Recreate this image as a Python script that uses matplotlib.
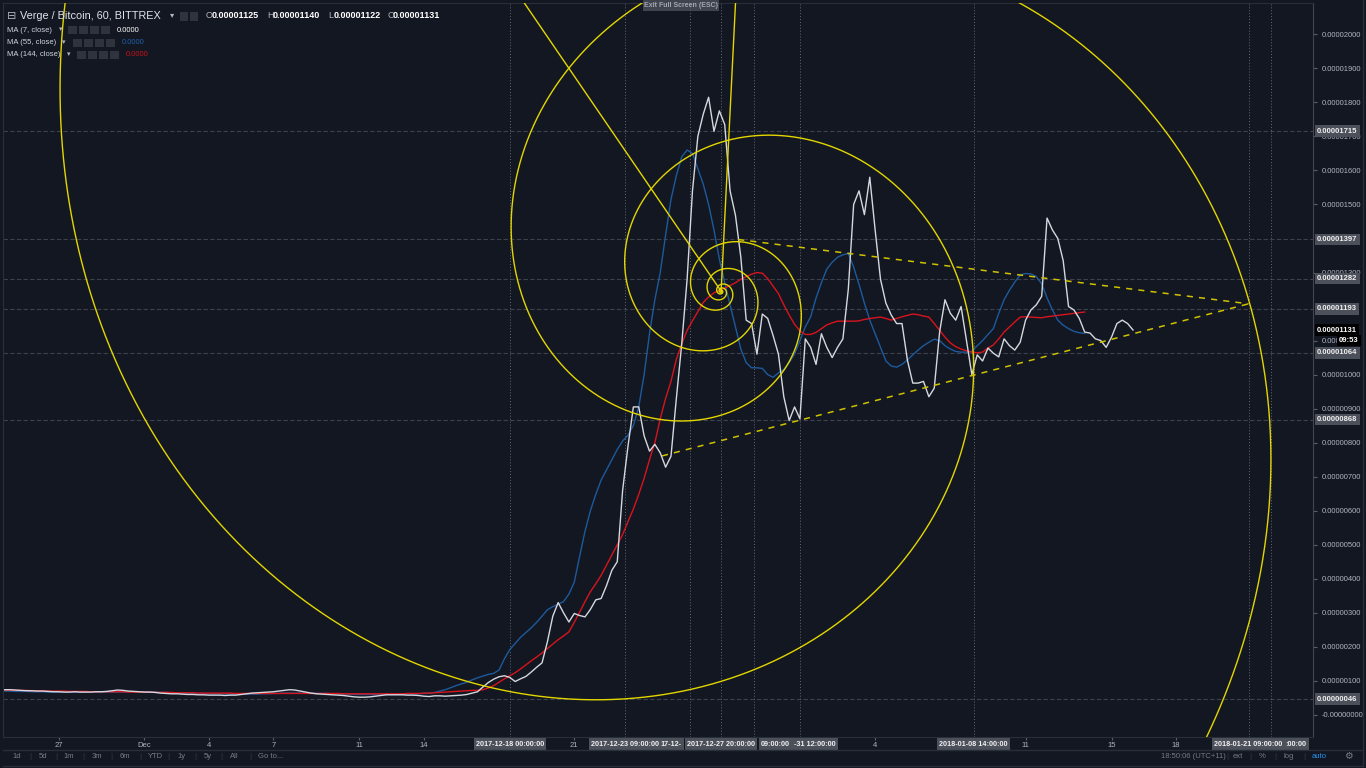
import datetime as dt

import matplotlib
matplotlib.use("Agg")
import matplotlib.dates as mdates
import matplotlib.pyplot as plt
import matplotlib.transforms as mtransforms
import numpy as np
import pandas as pd
from matplotlib.lines import Line2D
from matplotlib.patches import Rectangle

plt.rcParams["font.family"] = ["Liberation Sans", "DejaVu Sans"]

W, H = 1366, 768
BG = "#131722"
YEL = "#e3d600"
C_WHITE = "#d6d8de"
C_BLUE = "#1d5a9c"
C_RED = "#d8141c"
TXT = "#b2b5be"
MUTED = "#787b86"

# ---- data (prices in satoshi, 6-hour samples starting 2017-11-24 12:00) ----
series_start = "2017-11-24 12:00"
ma7 = [74, 74, 73, 72, 71, 71, 70, 70, 69, 68,
       68, 67, 67, 68, 67, 67, 67, 68, 68, 69,
       71, 73, 72, 70, 69, 68, 67, 67, 66, 64,
       63, 62, 62, 61, 60, 60, 59, 59, 58, 58,
       58, 57, 58, 58, 60, 62, 64, 65, 66, 67,
       68, 70, 72, 74, 73, 70, 67, 64, 62, 61,
       60, 59, 58, 57, 55, 53, 52, 52, 53, 55,
       57, 59, 59, 59, 59, 58, 58, 57, 55, 54,
       56, 56, 55, 56, 57, 58, 60, 64,
       68, 82, 95, 105, 112, 115, 110, 98, 106, 113, 126, 140,
       153, 215, 290, 330, 300, 273, 298, 292, 288, 310,
       338, 342, 380, 425, 450, 660, 790, 905, 905, 820,
       775, 795, 770, 728, 760, 930, 1090, 1280, 1540, 1700,
       1765, 1815, 1715, 1775, 1735, 1540, 1468, 1345, 1160, 1150,
       1060, 1178, 1165, 1115, 1060, 935, 865, 905, 870, 1105,
       1080, 1030, 1120, 1080, 1050, 1080, 1105, 1250, 1500, 1540,
       1470, 1580, 1425, 1280, 1210, 1175, 1150, 1150, 1043, 975,
       975, 980, 935, 960, 1125, 1220, 1180, 1160, 1200, 1100,
       1000, 1058, 1040, 1078, 1063, 1052, 1105, 1085, 1072, 1095,
       1160, 1190, 1205, 1230, 1460, 1425, 1400, 1335, 1200, 1190,
       1165, 1125, 1122, 1105, 1100, 1080, 1110, 1150, 1160, 1150, 1131]
ma55 = [70, 70, 69, 69, 69, 68, 68, 68, 67, 67,
        67, 67, 67, 67, 67, 67, 67, 67, 67, 67,
        67, 67, 67, 68, 68, 68, 68, 67, 67, 66,
        66, 65, 65, 64, 64, 63, 63, 63, 62, 62,
        62, 62, 61, 61, 61, 61, 61, 61, 62, 62,
        63, 63, 64, 64, 64, 64, 64, 64, 63, 63,
        63, 62, 62, 61, 61, 60, 60, 60, 60, 60,
        60, 60, 60, 60, 60, 61, 61, 62, 63, 64,
        66, 70, 74, 80, 86, 91, 96, 103, 109, 114,
        119, 122, 132, 165, 192, 210, 228, 242, 256, 272,
        290, 309, 318, 325, 333, 355, 390, 466, 540, 600,
        648, 690, 720, 750, 780, 805, 822, 850, 905, 1000,
        1120, 1220, 1300, 1410, 1515, 1585, 1640, 1660, 1650, 1605,
        1560, 1500, 1425, 1340, 1270, 1205, 1140, 1075, 1035, 1020,
        1020, 1018, 1000, 992, 1005, 1015, 1035, 1060, 1100, 1140,
        1170, 1225, 1270, 1310, 1330, 1345, 1352, 1356, 1316, 1265,
        1210, 1160, 1120, 1080, 1040, 1025, 1022, 1030, 1043, 1058,
        1072, 1085, 1095, 1104, 1100, 1085, 1075, 1068, 1066, 1066,
        1068, 1085, 1100, 1118, 1135, 1180, 1220, 1248, 1272, 1293,
        1297, 1296, 1288, 1267, 1225, 1190, 1160, 1145, 1135, 1127,
        1123, 1121]
ma144 = [73, 73, 72, 72, 72, 71, 71, 71, 70, 70,
         70, 70, 69, 69, 69, 69, 68, 68, 68, 68,
         68, 68, 68, 67, 67, 67, 67, 67, 66, 66,
         66, 66, 65, 65, 65, 65, 64, 64, 64, 64,
         64, 64, 64, 63, 63, 63, 63, 63, 63, 63,
         63, 63, 63, 63, 63, 63, 63, 63, 63, 63,
         63, 63, 63, 62, 62, 62, 62, 62, 62, 62,
         62, 62, 62, 62, 62, 63, 63, 63, 64, 64,
         65, 66, 67, 68, 69, 70, 71, 72, 72, 74,
         79, 86, 96, 106, 115, 124, 135, 147, 159, 170,
         182, 195, 208, 221, 232, 244, 272, 302, 333, 362,
         385, 410, 440, 470, 500, 530, 568, 605, 648, 695,
         750, 800, 870, 930, 980, 1045, 1090, 1130, 1158, 1185,
         1212, 1228, 1240, 1248, 1254, 1262, 1270, 1280, 1288, 1295,
         1300, 1298, 1282, 1260, 1238, 1205, 1175, 1148, 1128, 1118,
         1118, 1124, 1135, 1146, 1152, 1157, 1157, 1157, 1157, 1158,
         1162, 1165, 1167, 1169, 1165, 1160, 1165, 1170, 1174, 1178,
         1176, 1172, 1169, 1150, 1130, 1110, 1093, 1082, 1075, 1070,
         1066, 1064, 1066, 1078, 1087, 1105, 1125, 1140, 1155, 1169,
         1170, 1169, 1168, 1167, 1170, 1172, 1174, 1176, 1178, 1180,
         1182, 1184]

# drawing levels (price lines with labels) and time marks
level_prices = [1715, 1397, 1282, 1193, 1064, 868, 46]
last_price = 1131
mark_times = ["2017-12-18 00:00", "2017-12-23 09:00", "2017-12-26 09:00",
              "2017-12-27 20:00", "2017-12-29 09:00", "2017-12-31 12:00",
              "2018-01-08 14:00", "2018-01-21 09:00", "2018-01-22 10:00"]
# visible part of each time-mark label (neighbouring labels cover the rest)
mark_labels = ["2017-12-18 00:00:00", "2017-12-23 09:00:00", "17-12-",
               "2017-12-27 20:00:00", "09:00:00", "-31 12:00:00",
               "2018-01-08 14:00:00", "2018-01-21 09:00:00", ":00:00"]
mark_align = ["center", "center", "mid", "center", "right", "right",
              "center", "center", "right"]
tick_dates = ["2017-11-27", "2017-12-01", "2017-12-04", "2017-12-07", "2017-12-11",
              "2017-12-14", "2017-12-21", "2018-01-04", "2018-01-11", "2018-01-15",
              "2018-01-18"]
tick_labels = ["27", "Dec", "4", "7", "11", "14", "21", "4", "11", "15", "18"]
price_ticks = [0, 100, 200, 300, 400, 500, 600, 700, 800, 900, 1000, 1100, 1300,
               1500, 1600, 1700, 1800, 1900, 2000]

# fib spiral anchors and triangle
spiral_pole = ("2017-12-27 20:00", 1245)
spiral_right_marks = ["2018-01-08 14:00", "2018-01-22 10:00"]
ray_ends = [("2017-12-17 00:00", 2247), ("2017-12-28 15:00", 2247)]
tri_upper = [("2017-12-28 15:00", 1397), ("2018-01-21 09:00", 1208)]
tri_lower = [("2017-12-25 02:00", 761), ("2018-01-21 09:00", 1208)]


def fx(x):
    return x / W


def fy(y):
    return 1 - y / H


def dnum(s):
    return mdates.date2num(pd.Timestamp(s).to_pydatetime())


def price_text(v):
    if v == 0:
        return "-0.00000000"
    if v == 1100:
        return "0.000"  # the rest is hidden under the countdown box
    return f"{v * 1e-8:.8f}"


fig = plt.figure(figsize=(W / 100, H / 100), dpi=100, facecolor=BG)
ax = fig.add_axes([fx(3), fy(737), 1310 / W, 734 / H], facecolor=BG)
ax.set_xlim(dt.datetime(2017, 11, 24, 10), dt.datetime(2018, 1, 24, 9))
ax.set_ylim(-65, 2092)

for side in ["left", "top", "bottom"]:
    ax.spines[side].set_color("#2a2e39")
ax.spines["right"].set_color("#434651")

# level lines & time marks
for p in level_prices:
    ax.axhline(p, color="#3d414c", lw=0.8, ls=(0, (4, 2)), zorder=1)
for t in mark_times:
    ax.axvline(dnum(t), color="#656874", lw=0.7, ls=(0, (1, 2)), zorder=1)

# moving averages
t7 = pd.date_range(series_start, periods=len(ma7), freq="6h")
t55 = pd.date_range(series_start, periods=len(ma55), freq="6h")
t144 = pd.date_range(series_start, periods=len(ma144), freq="6h")
ax.plot(t55, ma55, color=C_BLUE, lw=1.0, zorder=3)
ax.plot(t144, ma144, color=C_RED, lw=1.0, zorder=3)
ax.plot(t7, ma7, color=C_WHITE, lw=1.0, zorder=3)

# fib spiral (two golden log spirals sharing one pole)
PHI = (1 + 5 ** 0.5) / 2
b = np.log(PHI) / (np.pi / 2)
th0 = np.arctan(b)
px, py = ax.transData.transform((dnum(spiral_pole[0]), spiral_pole[1]))
inv = ax.transData.inverted()
for rd in spiral_right_marks:
    xr, _ = ax.transData.transform((dnum(rd), spiral_pole[1]))
    r0 = (xr - px) / np.cos(th0)
    th = np.linspace(th0 + np.log(1.0 / r0) / b, th0 + np.log(4000 / r0) / b, 8000)
    r = r0 * np.exp(b * (th - th0))
    pts = inv.transform(np.column_stack([px + r * np.cos(th), py - r * np.sin(th)]))
    ax.plot(pts[:, 0], pts[:, 1], color=YEL, lw=1.0, zorder=4)
for d, p in ray_ends:
    ax.plot([dnum(spiral_pole[0]), dnum(d)], [spiral_pole[1], p], color=YEL, lw=1.0, zorder=4)

# triangle
for seg in (tri_upper, tri_lower):
    ax.plot([dnum(seg[0][0]), dnum(seg[1][0])], [seg[0][1], seg[1][1]],
            color="#cfc200", lw=1.1, ls=(0, (4, 4)), zorder=4)

# price scale
ax.yaxis.tick_right()
ax.set_yticks(price_ticks)
ax.set_yticklabels([price_text(v) for v in price_ticks])
ax.tick_params(axis="y", length=3, width=0.8, color="#5d606b", labelsize=5.5,
               labelcolor=TXT, pad=3)

ytrans = mtransforms.blended_transform_factory(ax.transAxes, ax.transData)
for p in level_prices:
    ax.text(1 + 4 / 1310, p, f"{p * 1e-8:.8f}", transform=ytrans, ha="left", va="center",
            fontsize=5.5, fontweight="bold", color="#f0f0f0", zorder=6, clip_on=False,
            bbox=dict(boxstyle="square,pad=0.3", fc="#4c505b", ec="none"))
ax.text(1 + 4 / 1310, last_price, f"{last_price * 1e-8:.8f}", transform=ytrans, ha="left",
        va="center", fontsize=5.5, fontweight="bold", color="white", zorder=6, clip_on=False,
        bbox=dict(boxstyle="square,pad=0.3", fc="black", ec="none"))
ax.text(1 + 26 / 1310, last_price - 31, "09:53", transform=ytrans, ha="left", va="center",
        fontsize=5.5, fontweight="bold", color="white", zorder=6, clip_on=False,
        bbox=dict(boxstyle="square,pad=0.3", fc="black", ec="none"))

# time scale
ax.set_xticks([dnum(d) for d in tick_dates])
ax.set_xticklabels(tick_labels)
ax.tick_params(axis="x", length=2, width=0.8, color="#5d606b", labelsize=5.5,
               labelcolor=TXT, pad=1.5)
xtrans = mtransforms.blended_transform_factory(ax.transData, ax.transAxes)
for t, lab, al in zip(mark_times, mark_labels, mark_align):
    if al == "right":
        tr, ha = xtrans + mtransforms.ScaledTranslation(0.355, 0, fig.dpi_scale_trans), "right"
    elif al == "mid":
        tr, ha = xtrans + mtransforms.ScaledTranslation(-0.185, 0, fig.dpi_scale_trans), "center"
    else:
        tr, ha = xtrans, "center"
    ax.text(dnum(t), -7 / 734, lab, transform=tr, ha=ha, va="center",
            fontsize=5.2, fontweight="bold", color="#f0f0f0", zorder=7, clip_on=False,
            bbox=dict(boxstyle="square,pad=0.3", fc="#4c505b", ec="none"))

# header legend
fig.text(fx(7), fy(16), "\u229f", fontsize=8, color=TXT, va="center")
fig.text(fx(20), fy(16), "Verge / Bitcoin, 60, BITTREX", fontsize=7.8, color="#e0e3eb", va="center")
fig.text(fx(170), fy(16), "\u25be", fontsize=6, color=TXT, va="center")
for x0 in (180, 190):
    fig.add_artist(Rectangle((fx(x0), fy(21)), 8 / W, 9 / H, transform=fig.transFigure,
                             fc="#2f333e", ec="none"))
ohlc = [("O", "0.00001125", 206), ("H", "0.00001140", 267), ("L", "0.00001122", 328),
        ("C", "0.00001131", 387)]
for k, v, x0 in ohlc:
    fig.text(fx(x0), fy(16), k, fontsize=6.5, color=TXT, va="center")
    fig.text(fx(x0 + 6), fy(16), v, fontsize=6.5, color="white", fontweight="bold", va="center")

ma_rows = [("MA (7, close)", 59, 68, 117, "white", 30),
           ("MA (55, close)", 62, 73, 122, "#1e5fa8", 43),
           ("MA (144, close)", 67, 77, 126, "#c8101a", 55)]
for name, ax_x, ic_x, val_x, col, yy in ma_rows:
    fig.text(fx(7), fy(yy), name, fontsize=5.5, color="#d1d4dc", va="center")
    fig.text(fx(ax_x), fy(yy), "\u25be", fontsize=5, color=TXT, va="center")
    for j in range(4):
        fig.add_artist(Rectangle((fx(ic_x + j * 11), fy(yy + 4)), 9 / W, 8 / H,
                                 transform=fig.transFigure, fc="#2f333e", ec="none"))
    fig.text(fx(val_x), fy(yy), "0.0000", fontsize=5.5, color=col, va="center")

# exit full screen hint
fig.add_artist(Rectangle((fx(643), fy(11)), 76 / W, 11 / H, transform=fig.transFigure,
                         fc="#50545e", ec="none", alpha=0.75))
fig.text(fx(681), fy(5.5), "Exit Full Screen (ESC)", fontsize=5, color="#a3a6af",
         ha="center", va="center", fontweight="bold")

# bottom toolbar
fig.add_artist(Line2D([fx(3), fx(1363)], [fy(750), fy(750)], color="#2a2e39", lw=1))
fig.add_artist(Line2D([fx(3), fx(1363)], [fy(766), fy(766)], color="#2a2e39", lw=1))
fig.add_artist(Line2D([fx(1363), fx(1363)], [fy(0), fy(766)], color="#2a2e39", lw=1))
ranges = ["1d", "5d", "1m", "3m", "6m", "YTD", "1y", "5y", "All", "Go to..."]
range_x = [17, 43, 69, 97, 125, 155, 182, 208, 234, 258]
for i, (lab, x0) in enumerate(zip(ranges, range_x)):
    fig.text(fx(x0), fy(756), lab, fontsize=5.5, color=MUTED,
             ha="left" if lab == "Go to..." else "center", va="center")
    if i < len(ranges) - 1:
        fig.text(fx((x0 + range_x[i + 1]) / 2 + (4 if i == 8 else 0)), fy(756), "|",
                 fontsize=6, color="#363a45", ha="center", va="center")
fig.text(fx(1193), fy(756), "18:50:06 (UTC+11)", fontsize=5.5, color=MUTED, ha="center", va="center")
for lab, x0, col in [("ext", 1238, MUTED), ("%", 1262, MUTED), ("log", 1289, MUTED),
                     ("auto", 1319, "#2196f3")]:
    fig.text(fx(x0), fy(756), lab, fontsize=5.5, color=col, ha="center", va="center")
for x0 in (1227, 1250, 1275, 1304):
    fig.text(fx(x0), fy(756), "|", fontsize=6, color="#363a45", ha="center", va="center")
fig.text(fx(1348), fy(756), "\u2699", fontsize=7, color=MUTED, ha="center", va="center")

fig.savefig("out.png", dpi=100, facecolor=BG)
